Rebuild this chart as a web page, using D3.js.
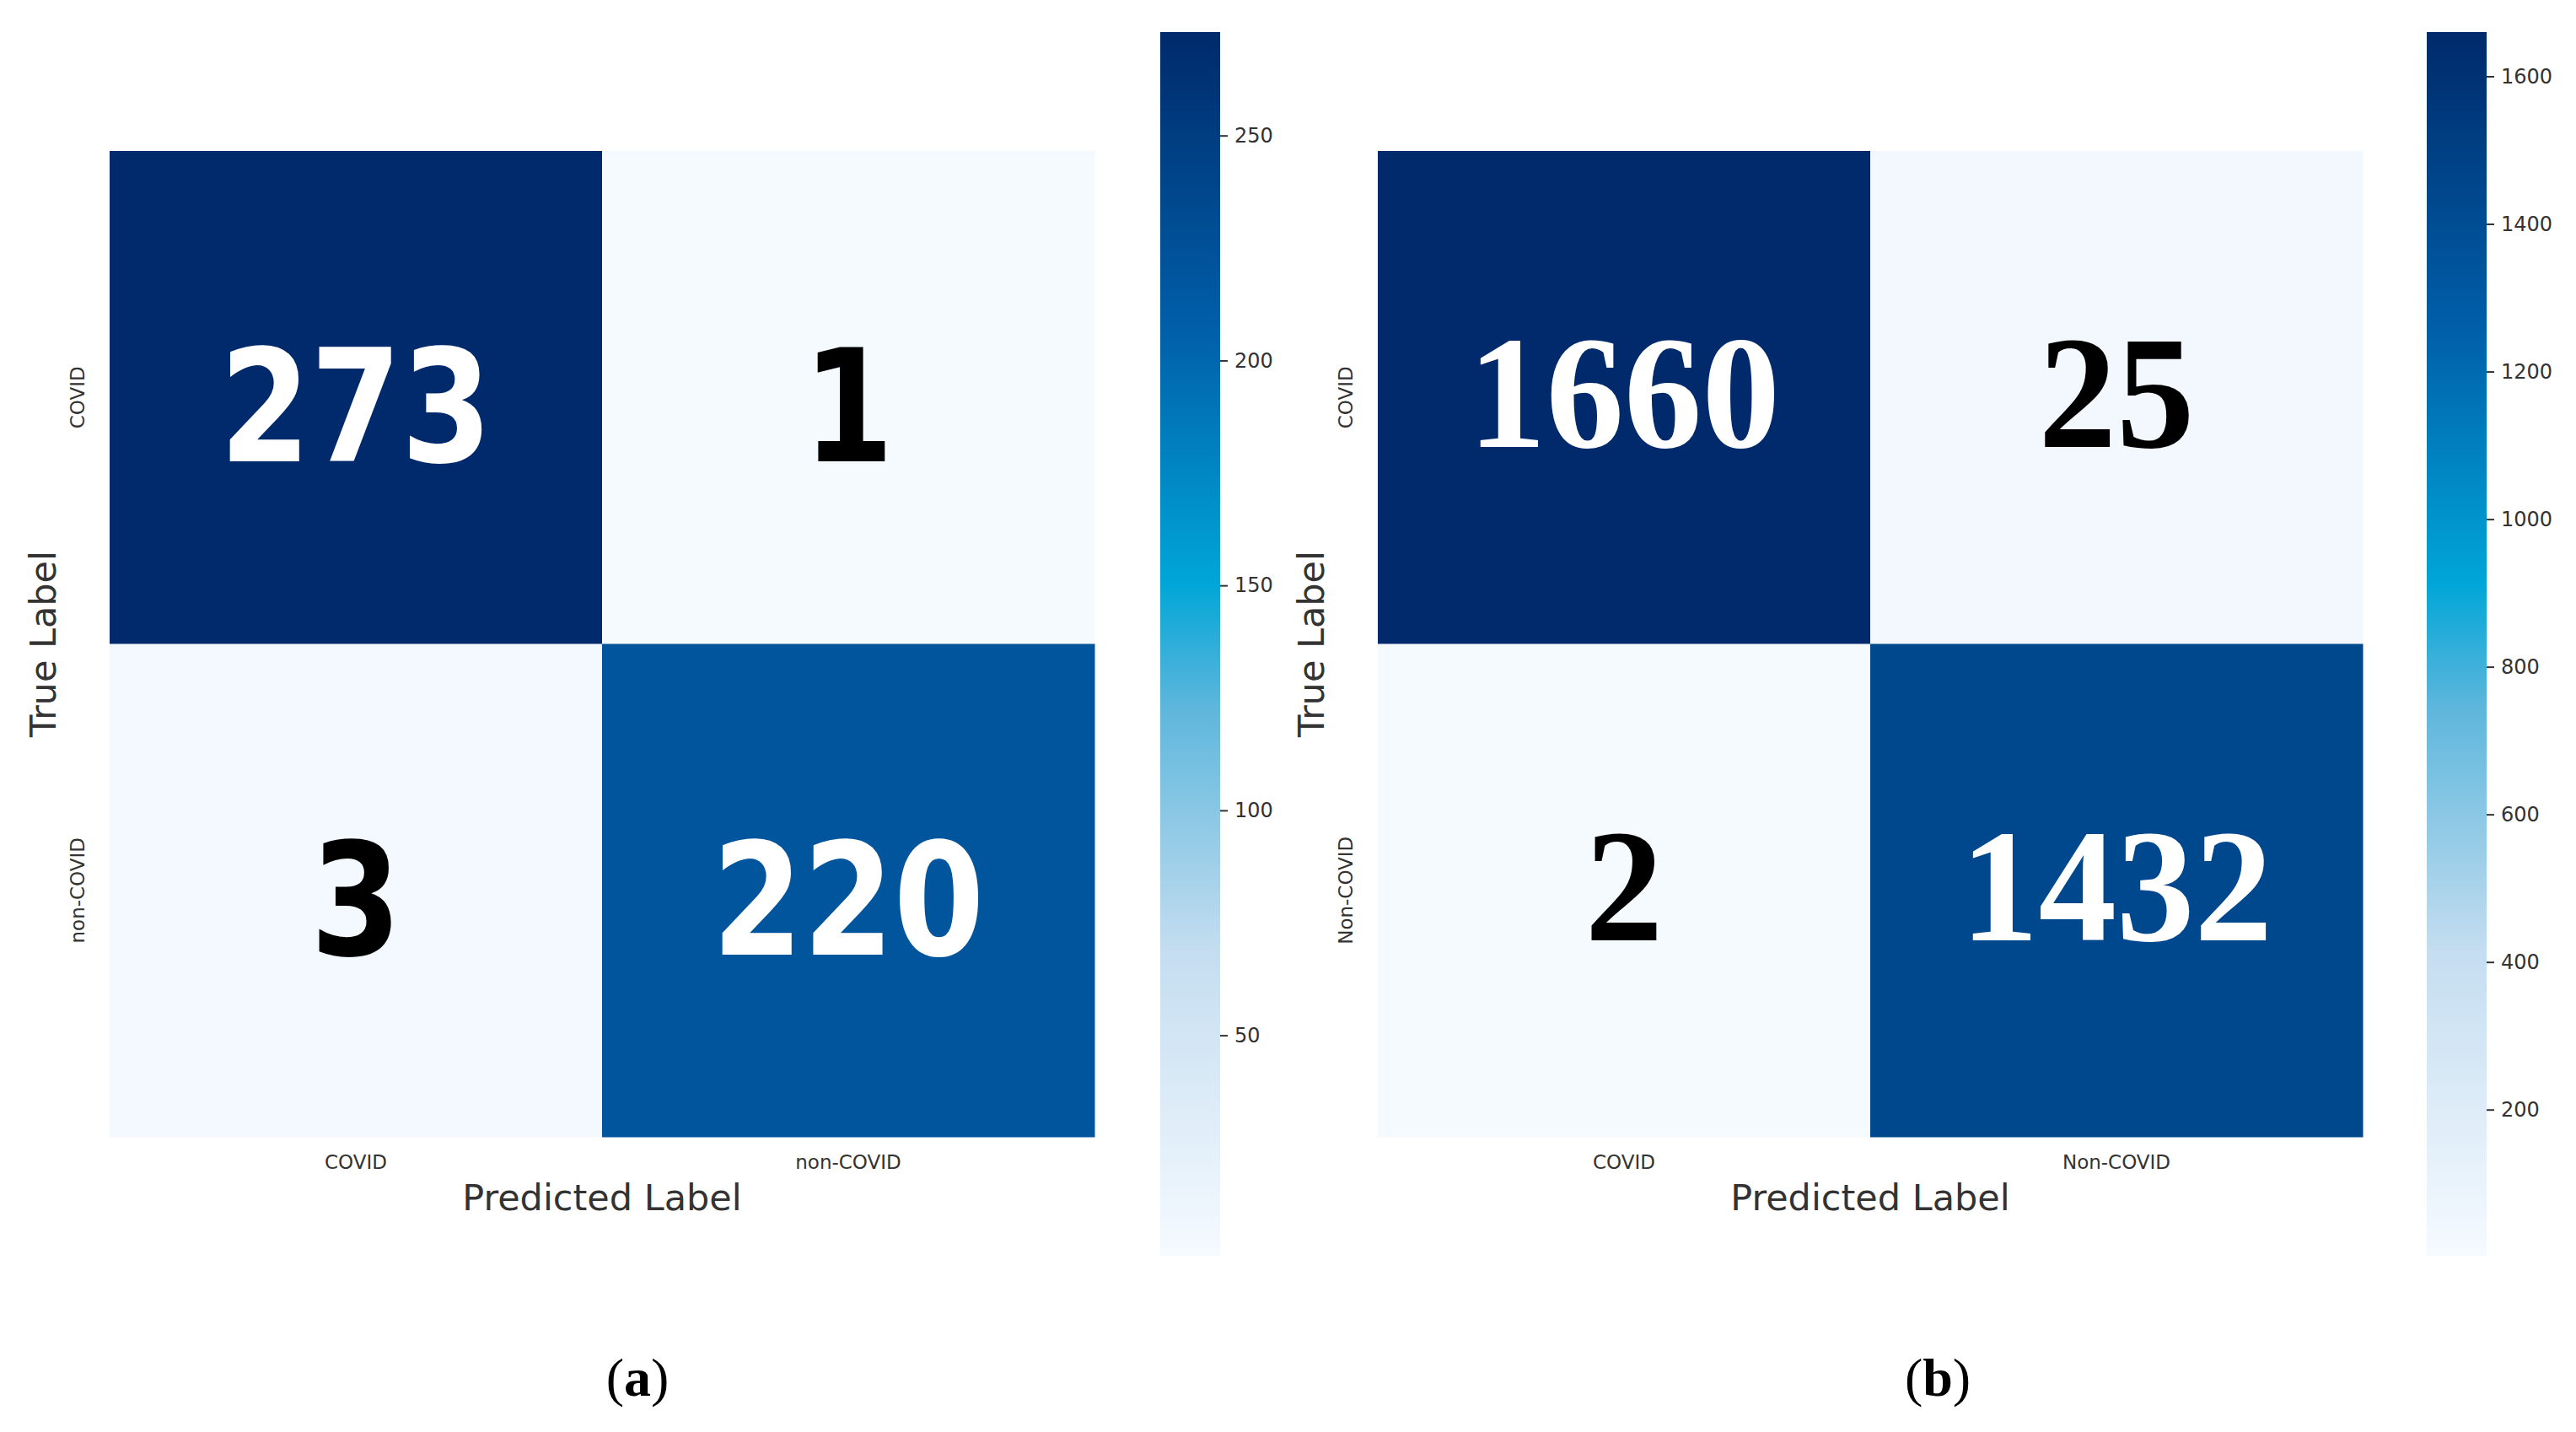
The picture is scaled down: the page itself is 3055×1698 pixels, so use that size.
<!DOCTYPE html>
<html><head><meta charset="utf-8">
<script src="https://cdn.jsdelivr.net/npm/d3@7"></script>
<style>body{margin:0;background:#fff}</style></head>
<body><svg id="c" width="3055" height="1698"></svg>
<script>
const categories = ["COVID","non-COVID"];
const categoriesB = ["COVID","Non-COVID"];
const valuesA = [[273,1],[3,220]];
const valuesB = [[1660,25],[2,1432]];
const ticksA = [50,100,150,200,250];
const ticksB = [200,400,600,800,1000,1200,1400,1600];
const domainA = [1,273];
const domainB = [2,1660];

const svg = d3.select("#c");
const stops = [0,0.25,0.45,0.55,0.75,1];
const cols = ["#f5faff","#c4ddf0","#5cb6dc","#00a6d7","#0061ab","#002a6b"];
const Y0 = 179, Y1 = 1348, CB0 = 38, CB1 = 1489;

function panel(cfg){
  const g = svg.append("g");
  const x = d3.scaleBand().domain(cfg.cats).range([cfg.x0,cfg.x1]);
  const y = d3.scaleBand().domain(cfg.cats).range([Y0,Y1]);
  const norm = d3.scaleLinear().domain(cfg.domain).range([0,1]);
  const cs = d3.scaleLinear().domain(stops).range(cols).clamp(true);
  const color = v => cs(norm(v));
  const cells = [];
  cfg.vals.forEach((r,i)=>r.forEach((v,j)=>cells.push({r:cfg.cats[i],c:cfg.cats[j],v})));
  g.selectAll("rect.cell").data(cells).join("rect")
    .attr("x",d=>x(d.c)).attr("y",d=>y(d.r)).attr("width",x.bandwidth()+0.5).attr("height",y.bandwidth()+0.5)
    .attr("fill",d=>color(d.v));
  g.selectAll("g.val").data(cells).join("g")
    .attr("transform",d=>`translate(${x(d.c)+x.bandwidth()/2},${y(d.r)+y.bandwidth()/2+cfg.dy}) scale(${cfg.sx},${cfg.sy})`)
    .append("text").attr("y",cfg.off)
    .attr("text-anchor","middle").attr("font-family",cfg.font).attr("font-weight","bold")
    .attr("font-size",cfg.fs).attr("fill",d=>norm(d.v)>0.5?"#fff":"#000").text(d=>d.v);
  g.selectAll("text.xt").data(cfg.cats).join("text")
    .attr("x",d=>x(d)+x.bandwidth()/2).attr("y",1386).attr("text-anchor","middle")
    .attr("font-family","DejaVu Sans").attr("font-size",23).attr("fill","#333").text(d=>d);
  g.selectAll("text.yt").data(cfg.cats).join("text")
    .attr("transform",d=>`translate(${cfg.x0-30},${y(d)+y.bandwidth()/2}) rotate(-90)`)
    .attr("text-anchor","middle").attr("font-family","DejaVu Sans").attr("font-size",23).attr("fill","#333").text(d=>d);
  g.append("text").attr("x",(cfg.x0+cfg.x1)/2).attr("y",1435).attr("text-anchor","middle")
    .attr("font-family","DejaVu Sans").attr("font-size",43).attr("fill","#333").text("Predicted Label");
  g.append("text").attr("transform",`translate(${cfg.x0-64},${(Y0+Y1)/2}) rotate(-90)`).attr("text-anchor","middle")
    .attr("font-family","DejaVu Sans").attr("font-size",43).attr("fill","#333").text("True Label");
  const cy = d3.scaleLinear().domain(cfg.domain).range([CB1,CB0]);
  const defs = svg.append("defs");
  const gid = "grad"+cfg.id;
  const lg = defs.append("linearGradient").attr("id",gid).attr("x1",0).attr("y1",1).attr("x2",0).attr("y2",0);
  stops.forEach((s,i)=>lg.append("stop").attr("offset",s).attr("stop-color",cols[i]));
  g.append("rect").attr("x",cfg.cb).attr("y",CB0).attr("width",71).attr("height",CB1-CB0).attr("fill",`url(#${gid})`);
  const ax = g.append("g").attr("transform",`translate(${cfg.cb+71},0)`)
    .call(d3.axisRight(cy).tickValues(cfg.ticks).tickFormat(d3.format("d")).tickSize(9).tickPadding(8));
  ax.select(".domain").remove();
  ax.selectAll("line").attr("stroke","#333").attr("stroke-width",2);
  ax.selectAll("text").attr("font-family","DejaVu Sans").attr("font-size",24).attr("fill","#333");
  const cap = g.append("text").attr("x",cfg.capx).attr("y",1655).attr("text-anchor","middle")
    .attr("font-family","Liberation Serif").attr("font-size",64).attr("fill","#000");
  cap.append("tspan").text("(");
  cap.append("tspan").attr("font-weight","bold").text(cfg.cap);
  cap.append("tspan").text(")");
}
panel({id:"a",cats:categories,vals:valuesA,domain:domainA,ticks:ticksA,x0:130,x1:1298,cb:1376,
  font:"DejaVu Sans",fs:172,sx:0.9,sy:1.08,off:63,dy:8,capx:756,cap:"a"});
panel({id:"b",cats:categoriesB,vals:valuesB,domain:domainB,ticks:ticksB,x0:1634,x1:2802,cb:2878,
  font:"Liberation Serif",fs:178,sx:1.04,sy:1.07,off:60,dy:-5,capx:2298,cap:"b"});
</script></body></html>
